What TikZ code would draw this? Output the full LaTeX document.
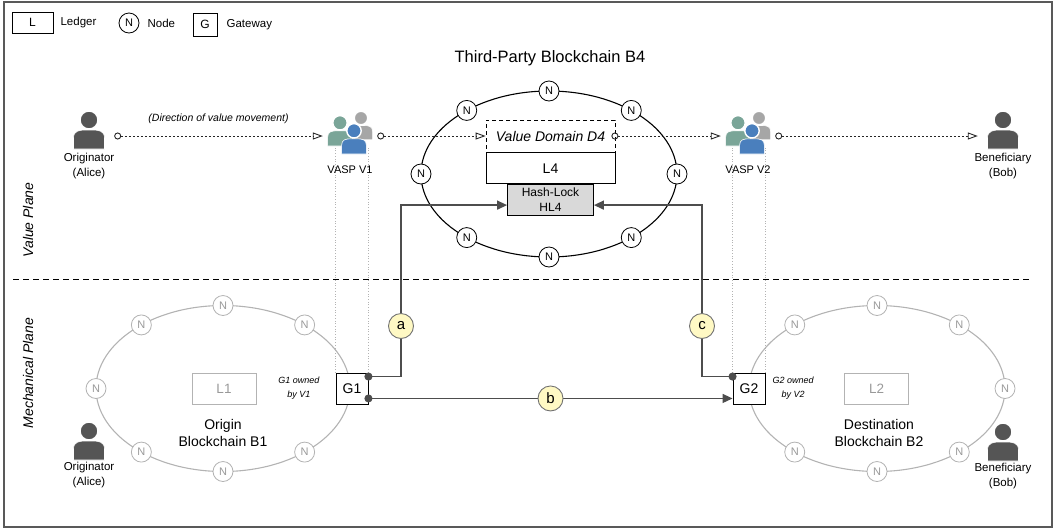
\documentclass[tikz,border=0pt]{standalone}
\usepackage{fontspec}
\setmainfont{Liberation Sans}
\usetikzlibrary{positioning,arrows.meta}

\definecolor{linegray}{HTML}{4D4D4D}
\definecolor{softgray}{HTML}{B3B3B3}
\definecolor{fadetext}{HTML}{999999}
\definecolor{persongray}{HTML}{555555}
\definecolor{vaspgreen}{HTML}{7AA598}
\definecolor{vaspblue}{HTML}{4A7FBD}
\definecolor{vaspgray}{HTML}{A6A6A6}
\definecolor{lockgray}{HTML}{D9D9D9}
\definecolor{phaseyellow}{HTML}{FFF9C4}

\tikzset{
  every node/.style={inner sep=1pt},
  txt/.style={font=\fontsize{11.5}{15}\selectfont, align=center},
  note/.style={font=\fontsize{10.5}{13}\selectfont\itshape, align=center},
  owner/.style={font=\fontsize{9}{14}\selectfont\itshape, align=center},
  plane/.style={font=\fontsize{14}{16}\selectfont\itshape, rotate=90},
  chainname/.style={font=\fontsize{14}{17}\selectfont, align=center},
  ledger/.style={draw, line width=0.8pt, minimum width=64pt, minimum height=31pt, font=\fontsize{13.5}{16}\selectfont},
  valuebox/.style={draw, fill=white, line width=0.8pt, dash pattern=on 4pt off 3pt, minimum width=129pt, minimum height=32pt, font=\fontsize{14}{16}\selectfont\itshape},
  gate/.style={draw, fill=white, line width=0.9pt, minimum width=32pt, minimum height=31pt, font=\fontsize{14}{16}\selectfont},
  peer/.style={circle, draw, fill=white, line width=0.8pt, minimum size=20pt, font=\fontsize{11}{13}\selectfont},
  faded/.style={draw=softgray, text=fadetext},
  phase/.style={circle, draw=gray!90!black, fill=phaseyellow, line width=0.9pt, minimum size=25pt, font=\fontsize{15}{17}\selectfont},
  icon/.style={minimum width=50pt, minimum height=32pt},
  vasp/.style={minimum width=54pt, minimum height=40pt},
  flow/.style={draw=black!85, line width=0.9pt, dash pattern=on 2pt off 2pt, {Circle[open,length=7pt]}-{Triangle[open,length=10pt,width=7pt]}},
  link/.style={draw=linegray, line width=1.4pt, shorten <=-4pt, {Circle[length=8pt]}-{Triangle[length=10pt,width=9pt]}},
  guide/.style={draw=softgray, line width=0.7pt, dotted},
  pics/person/.style={code={
    \filldraw[fill=#1, draw=white, line width=0.6pt] (-15.5,15) -- (-15.5,4) .. controls (-15.5,-3) and (-10,-4) .. (-4,-4) -- (4,-4) .. controls (10,-4) and (15.5,-3) .. (15.5,4) -- (15.5,15) -- cycle;
    \filldraw[fill=#1, draw=white, line width=1.4pt] (0,-14) circle (9);
  }}
}

\begin{document}
\begin{tikzpicture}[x=1pt,y=-1pt]
\useasboundingbox (0,0) rectangle (1055,531);
\draw[draw=gray!70!black, line width=1.4pt] (4,2) rectangle (1052,527);

% legend
\node[ledger, minimum width=41pt, minimum height=21pt, font=\fontsize{12}{14}\selectfont] (legl) at (32.5,22.5) {L};
\node[txt, right=6pt of legl] (legltxt) {Ledger};
\node[peer] (legn) at (129,23) {N};
\node[txt, right=7pt of legn] (legntxt) {Node};
\node[gate, minimum width=24pt, minimum height=23pt, font=\fontsize{12}{14}\selectfont] (legg) at (205,24.5) {G};
\node[txt, right=8pt of legg] (leggtxt) {Gateway};

% planes
\draw[line width=1pt, dash pattern=on 6pt off 4pt] (13,279) -- (1030,279);
\node[plane] (vplane) at (28,220) {Value Plane};
\node[plane] (mplane) at (28,373) {Mechanical Plane};

% third-party blockchain
\node[font=\fontsize{16.5}{19}\selectfont] (title) at (550,58) {Third-Party Blockchain B4};
\coordinate (c4) at (549,174);
\draw[line width=1.1pt] (c4) ellipse (128 and 83);
\foreach \a in {0,50,90,130,180,230,270,310}
  \node[peer] (n4-\a) at ([shift={(\a:128 and 83)}]c4) {N};
\node[valuebox] (dom) at (550.5,136) {Value Domain D4};
\node[ledger, minimum width=129pt, font=\fontsize{14}{16}\selectfont, below=0pt of dom] (l4) {L4};
\node[ledger, fill=lockgray, minimum width=86pt, align=center, font=\fontsize{12}{15}\selectfont, below=0pt of l4] (hl4) {Hash-Lock\\HL4};

% origin and destination blockchains
\coordinate (c1) at (223,388.5);
\coordinate (c2) at (877,388.5);
\draw[softgray, line width=1.1pt] (c1) ellipse (127 and 83);
\draw[softgray, line width=1.1pt] (c2) ellipse (128 and 83);
\foreach \a in {50,90,130,180,230,270,310}
  \node[peer, faded] (n1-\a) at ([shift={(\a:127 and 83)}]c1) {N};
\foreach \a in {0,50,90,130,230,270,310}
  \node[peer, faded] (n2-\a) at ([shift={(\a:128 and 83)}]c2) {N};
\node[ledger, faded] (l1) at (224,388.5) {L1};
\node[ledger, faded] (l2) at (876.5,388.5) {L2};
\node[chainname] (b1name) at (223,433) {Origin\\Blockchain B1};
\node[chainname] (b2name) at (879,433) {Destination\\Blockchain B2};
\node[gate] (g1) at (352,388.5) {G1};
\node[gate] (g2) at (749,388.5) {G2};
\node[owner, left=15pt of g1] (g1own) {G1 owned\\by V1};
\node[owner, right=6pt of g2] (g2own) {G2 owned\\by V2};

% people and VASPs
\node[icon] (alice) at (89,136) {};
\node[icon] (bob) at (1003,136) {};
\node[vasp] (v1) at (350,136) {};
\node[vasp] (v2) at (748,136) {};
\draw[guide] (g1.north west) -- ([yshift=8pt]v1.south -| g1.west);
\draw[guide] (g1.north east) -- ([yshift=8pt]v1.south -| g1.east);
\draw[guide] (g2.north west) -- ([yshift=8pt]v2.south -| g2.west);
\draw[guide] (g2.north east) -- ([yshift=8pt]v2.south -| g2.east);
\pic at ([yshift=2pt]alice.center) {person=persongray};
\pic at ([yshift=2pt]bob.center) {person=persongray};
\foreach \v in {v1,v2} {
  \pic[scale=0.75] at ([shift={(11,-7.5)}]\v.center) {person=vaspgray};
  \pic[scale=0.8] at ([shift={(-10,-2)}]\v.center) {person=vaspgreen};
  \pic[scale=0.8] at ([shift={(4,6)}]\v.center) {person=vaspblue};
}
\node[txt, below=0pt of alice] (alicetxt) {Originator\\(Alice)};
\node[txt, below=0pt of bob] (bobtxt) {Beneficiary\\(Bob)};
\node[txt, font=\fontsize{11}{13}\selectfont, below=8pt of v1] (v1txt) {VASP V1};
\node[txt, font=\fontsize{11}{13}\selectfont, below=8pt of v2] (v2txt) {VASP V2};

\node[icon] (alice2) at (89,445) {};
\node[icon] (bob2) at (1003,446) {};
\pic at (alice2.center) {person=persongray};
\pic at (bob2.center) {person=persongray};
\node[txt, below=0pt of alice2] (alice2txt) {Originator\\(Alice)};
\node[txt, below=0pt of bob2] (bob2txt) {Beneficiary\\(Bob)};

% value movement
\draw[flow] (alice) -- node[note, above=11pt] (dirtxt) {(Direction of value movement)} (v1);
\draw[flow] (v1) -- (dom);
\draw[flow, shorten <=-4pt] (dom) -- (v2);
\draw[flow] (v2) -- (bob);

% gateway links
\draw[link] ([yshift=-4pt]g1.north east) -| (401,326) node[phase] (pa) {a} |- ([yshift=-5pt]hl4.west);
\draw[link] ([yshift=6pt]g1.south east) -- node[phase] (pb) {b} ([yshift=6pt]g2.south west);
\draw[link] ([yshift=-4pt]g2.north west) -| (702,326) node[phase] (pc) {c} |- ([yshift=-5pt]hl4.east);
\end{tikzpicture}
\end{document}
